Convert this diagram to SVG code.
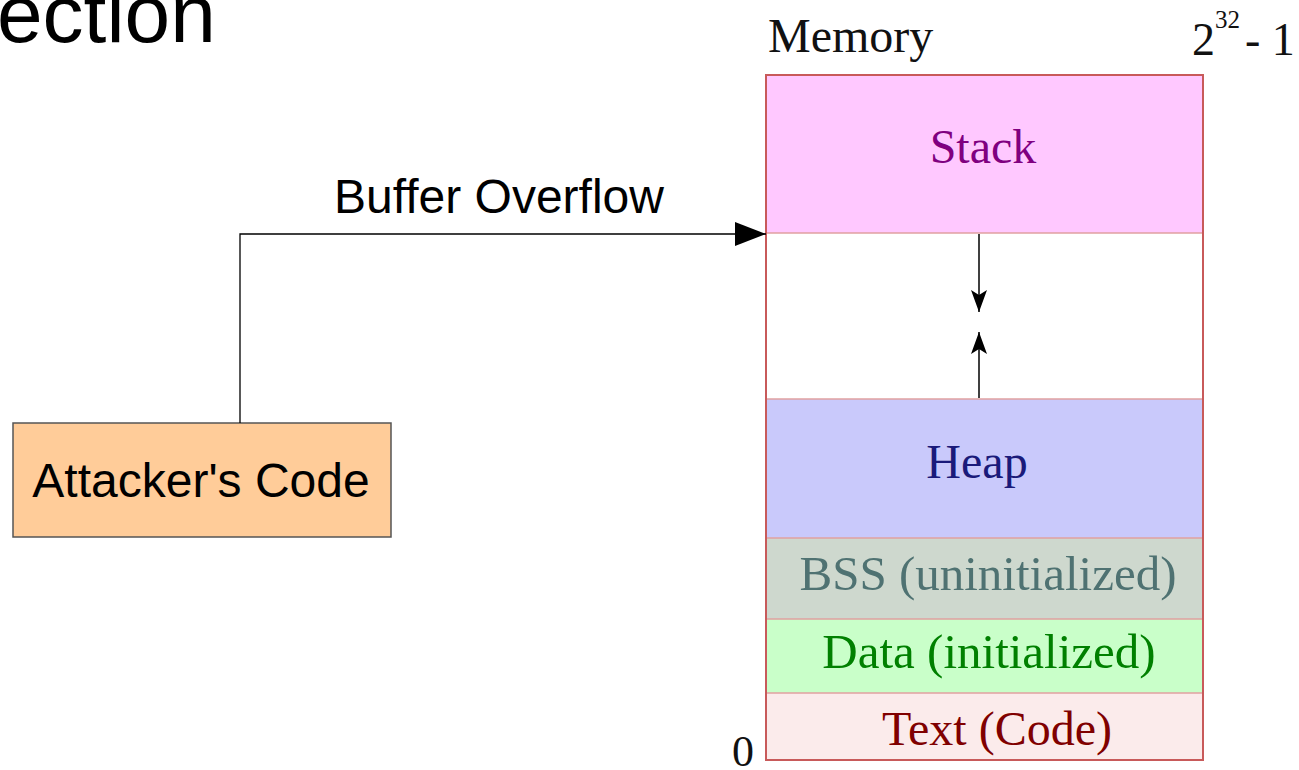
<svg xmlns="http://www.w3.org/2000/svg" width="1299" height="770" viewBox="0 0 1299 770">
  <style>
    .sans { font-family: "Liberation Sans", Arial, sans-serif; fill: #000; }
    .serif { font-family: "Liberation Serif", "Times New Roman", serif; }
    .seg { stroke: none; }
    .sep { stroke: #E0A0A0; stroke-width: 1.5; }
    .wire { fill: none; stroke: #000; stroke-width: 1.3; }
    .thin { fill: none; stroke: #000; stroke-width: 1.5; }
  </style>
  <defs>
    <marker id="tri" viewBox="0 0 31 24" refX="31" refY="12" markerWidth="31" markerHeight="24" markerUnits="userSpaceOnUse" orient="auto">
      <path d="M0,0 L31,12 L0,24 Z" fill="#000"/>
    </marker>
    <marker id="barb" viewBox="0 0 22 16" refX="22" refY="8" markerWidth="22" markerHeight="16" markerUnits="userSpaceOnUse" orient="auto">
      <path d="M0,0 L22,8 L0,16 L5,8 Z" fill="#000"/>
    </marker>
  </defs>

  <rect width="1299" height="770" fill="#fff"/>

  <!-- slide title fragment -->
  <text class="sans" x="-3" y="42" font-size="82">ection</text>

  <!-- memory layout -->
  <g id="memory">
    <text class="serif" x="768" y="52" font-size="48" fill="#111">Memory</text>
    <text class="serif" x="1192" y="55" font-size="46" fill="#111">2</text>
    <text class="serif" x="1215" y="28" font-size="25" fill="#111">32</text>
    <text class="serif" x="1245" y="55" font-size="46" fill="#111">- 1</text>
    <text class="serif" x="732" y="766" font-size="44" fill="#111">0</text>

    <g id="stack">
      <rect class="seg" x="766" y="75" width="437" height="158" fill="#FFC8FF"/>
      <text class="serif" x="983" y="163" font-size="48" fill="#800080" text-anchor="middle">Stack</text>
    </g>
    <g id="gap">
      <rect class="seg" x="766" y="233" width="437" height="166" fill="#FFFFFF"/>
    </g>
    <g id="heap">
      <rect class="seg" x="766" y="399" width="437" height="139" fill="#C9C9FB"/>
      <text class="serif" x="977" y="478" font-size="48" fill="#1A1A7A" text-anchor="middle">Heap</text>
    </g>
    <g id="bss">
      <rect class="seg" x="766" y="538" width="437" height="81" fill="#CED8CE"/>
      <text class="serif" x="988" y="590" font-size="49" fill="#4F7272" text-anchor="middle">BSS (uninitialized)</text>
    </g>
    <g id="data">
      <rect class="seg" x="766" y="619" width="437" height="74" fill="#C9FFC9"/>
      <text class="serif" x="989" y="668" font-size="49" fill="#008000" text-anchor="middle">Data (initialized)</text>
    </g>
    <g id="text-seg">
      <rect class="seg" x="766" y="693" width="437" height="67" fill="#FBEBEB"/>
      <text class="serif" x="997" y="745" font-size="48" fill="#800000" text-anchor="middle">Text (Code)</text>
    </g>

    <line class="sep" x1="766" y1="233" x2="1203" y2="233"/>
    <line class="sep" x1="766" y1="399" x2="1203" y2="399"/>
    <line class="sep" x1="766" y1="538" x2="1203" y2="538"/>
    <line class="sep" x1="766" y1="619" x2="1203" y2="619"/>
    <line class="sep" x1="766" y1="693" x2="1203" y2="693"/>
    <rect x="766" y="75" width="437" height="685" fill="none" stroke="#C85A5A" stroke-width="2"/>
  </g>

  <g id="attacker">
    <rect x="13" y="423" width="378" height="114" fill="#FFCC99" stroke="#555" stroke-width="1.5"/>
    <text class="sans" x="201" y="497" font-size="48" text-anchor="middle">Attacker's Code</text>
  </g>

  <g id="connectors">
    <polyline class="wire" points="240,423 240,234 766,234" marker-end="url(#tri)"/>
    <text class="sans" x="499" y="213" font-size="48" text-anchor="middle">Buffer Overflow</text>
    <line class="thin" x1="979" y1="234" x2="979" y2="312" marker-end="url(#barb)"/>
    <line class="thin" x1="979" y1="398" x2="979" y2="332" marker-end="url(#barb)"/>
  </g>
</svg>
